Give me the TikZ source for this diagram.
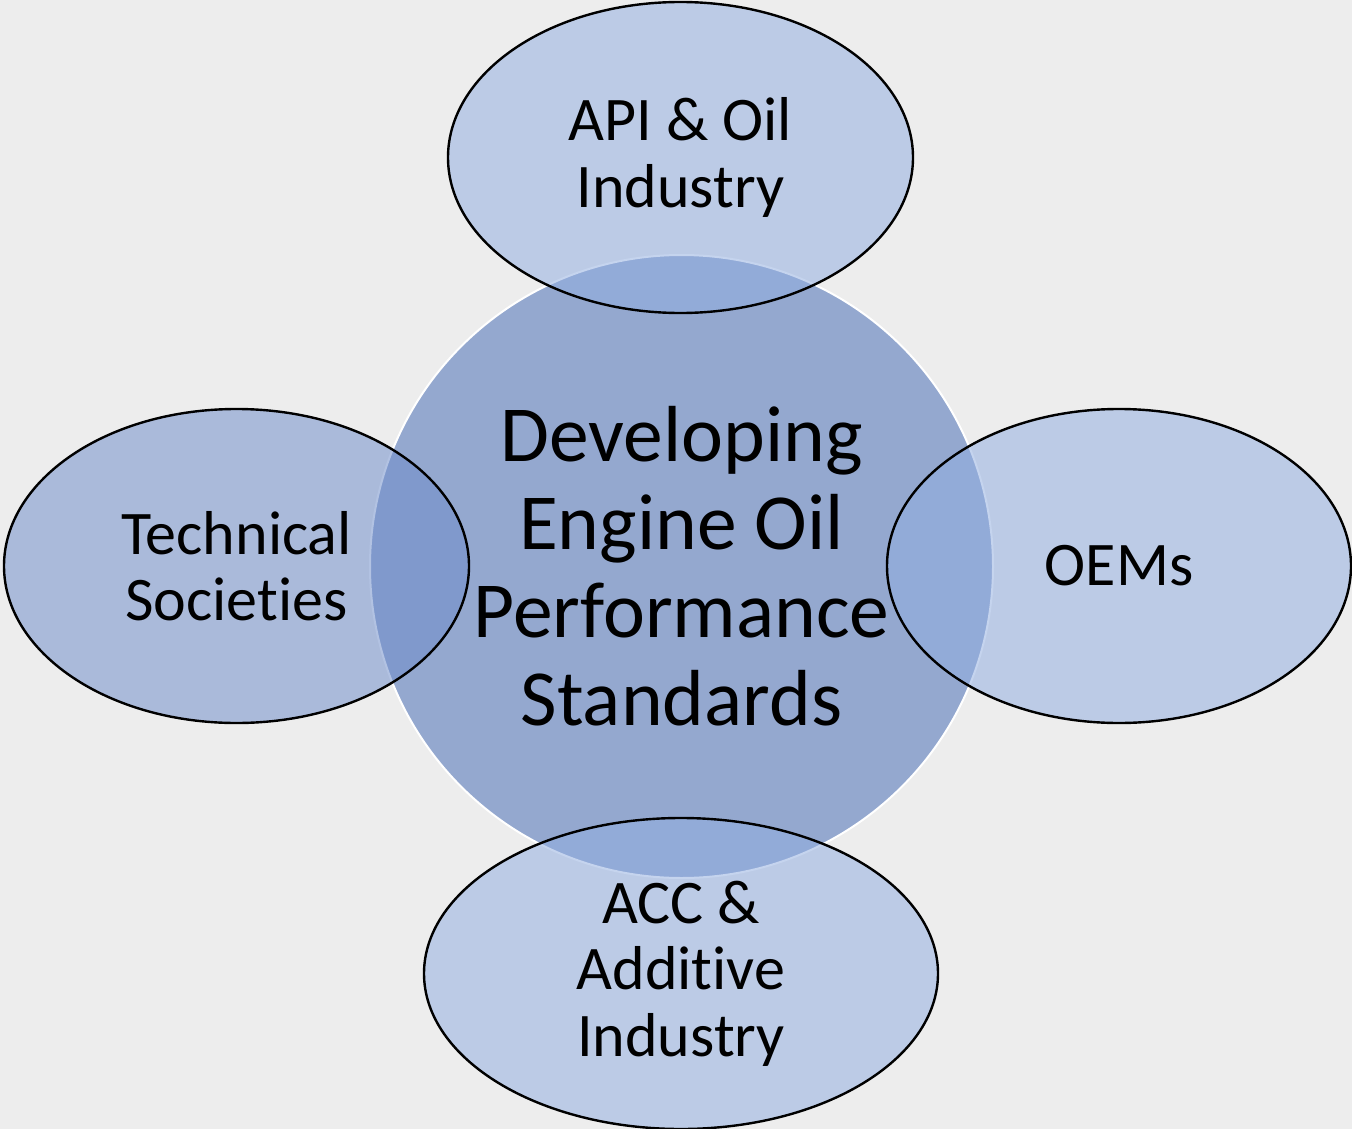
\documentclass[tikz,border=0pt]{standalone}
\usepackage{fontspec}
\setmainfont{Carlito}[RawFeature={-liga;-dlig}]
\usetikzlibrary{shapes.geometric}
\definecolor{pagebg}{HTML}{EDEDED}
\definecolor{corefill}{HTML}{94A8CF}
\definecolor{petalfill}{HTML}{92AEE0}
\definecolor{petaldark}{HTML}{6F8DCA}
\begin{document}
\begin{tikzpicture}[x=1pt,y=-1pt,
  petal/.style={ellipse, draw=black, line width=2.4pt, fill=#1, fill opacity=0.53,
    text opacity=1, inner sep=0pt, align=center,
    font=\fontsize{62}{66.5}\selectfont},
  petal/.default=petalfill,
  core/.style={circle, draw=white, line width=2pt, fill=corefill,
    minimum size=623pt, inner sep=0pt},
  coretext/.style={align=center, inner sep=0pt,
    font=\fontsize{79.5}{88}\selectfont}]
  % page background
  \fill[pagebg] (0,0) rectangle (1352,1129);
  \useasboundingbox (0,0) rectangle (1352,1129);
  % central circle
  \node[core] (core) at (681.5,566.5) {};
  % surrounding stakeholder ellipses
  \node[petal, minimum width=465pt, minimum height=311pt] (api) at (680.5,157.5)
    {API \& Oil\\Industry};
  \node[petal=petaldark, minimum width=465pt, minimum height=314pt] (tech) at (236.5,566)
    {Technical\\Societies};
  \node[petal, minimum width=464pt, minimum height=314pt] (oem) at (1119,566)
    {OEMs};
  \node[petal, minimum width=514pt, minimum height=311pt] (acc) at (681,973.5)
    {ACC \&\\Additive\\Industry};
  % central label on top of everything
  \node[coretext] (ctext) at (core.center)
    {Developing\\Engine Oil\\Performance\\Standards};
\end{tikzpicture}
\end{document}
